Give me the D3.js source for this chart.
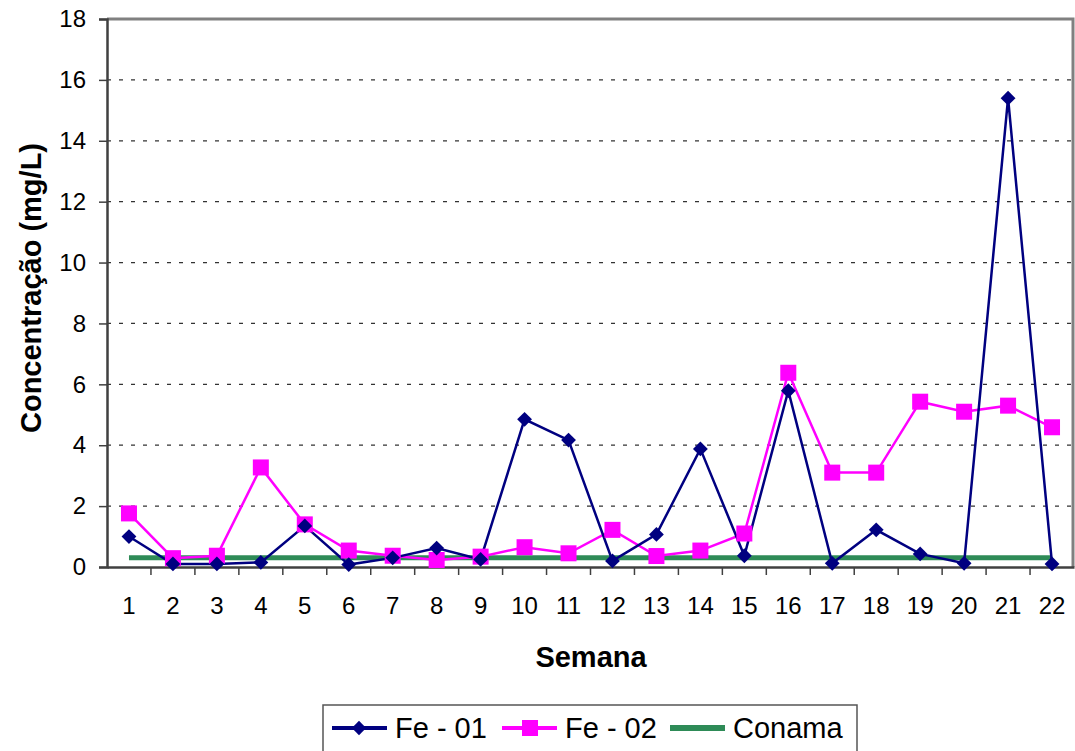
<!DOCTYPE html>
<html>
<head>
<meta charset="utf-8">
<script src="https://cdn.jsdelivr.net/npm/d3@7"></script>
<style>
  body { margin: 0; background: #fff; }
  svg text { font-family: Arial, "Liberation Sans", sans-serif; fill: #000; }
</style>
</head>
<body>
<div id="chart"></div>
<script>
const width = 1075;
const height = 751;

const semanas = ["1","2","3","4","5","6","7","8","9","10","11","12","13","14","15","16","17","18","19","20","21","22"];
const fe01 = [1.0, 0.1, 0.1, 0.15, 1.35, 0.08, 0.3, 0.62, 0.25, 4.85, 4.17, 0.2, 1.07, 3.88, 0.37, 5.79, 0.12, 1.22, 0.43, 0.12, 15.4, 0.1];
const fe02 = [1.76, 0.29, 0.37, 3.27, 1.4, 0.54, 0.37, 0.23, 0.34, 0.65, 0.45, 1.22, 0.36, 0.54, 1.1, 6.38, 3.1, 3.1, 5.43, 5.1, 5.3, 4.59];
const conama = semanas.map(() => 0.3);
const yTicks = [0, 2, 4, 6, 8, 10, 12, 14, 16, 18];

const margin = { left: 107, right: 1, top: 19, bottom: 184 };

const svg = d3.select("#chart").append("svg")
    .attr("width", width)
    .attr("height", height);

const x = d3.scaleBand()
    .domain(semanas)
    .range([margin.left, width - margin.right]);

const y = d3.scaleLinear()
    .domain([0, 18])
    .range([height - margin.bottom, margin.top]);

// grid lines
svg.append("g")
    .selectAll("line")
    .data(yTicks.filter(d => d > 0 && d < 18))
    .enter().append("line")
    .attr("x1", margin.left)
    .attr("x2", width - margin.right)
    .attr("y1", d => y(d))
    .attr("y2", d => y(d))
    .attr("stroke", "#333")
    .attr("stroke-width", 1.2)
    .attr("stroke-dasharray", "4,8");

// plot border (top / right)
svg.append("path")
    .attr("d", `M${margin.left},${y(18)}H${width - margin.right - 1}V${y(0)}`)
    .attr("fill", "none")
    .attr("stroke", "#808080")
    .attr("stroke-width", 3);

// y axis
const yAxis = svg.append("g")
    .attr("transform", `translate(${margin.left},0)`)
    .call(d3.axisLeft(y).tickValues(yTicks).tickSize(8).tickPadding(13));
yAxis.select(".domain").attr("stroke", "#404040").attr("stroke-width", 2.5);
yAxis.selectAll(".tick line").attr("stroke", "#404040").attr("stroke-width", 1.5);
yAxis.selectAll("text").style("font-size", "24px");

// x axis
const xAxis = svg.append("g")
    .attr("transform", `translate(0,${y(0)})`)
    .call(d3.axisBottom(x).tickSize(0).tickPadding(30));
xAxis.select(".domain").attr("stroke", "#404040").attr("stroke-width", 2.5);
xAxis.selectAll("text").style("font-size", "24px");
xAxis.selectAll(".bound")
    .data(semanas.slice(1))
    .enter().append("line")
    .attr("x1", d => x(d))
    .attr("x2", d => x(d))
    .attr("y1", 0)
    .attr("y2", 8)
    .attr("stroke", "#404040")
    .attr("stroke-width", 1.5);

const cx = d => x(d) + x.bandwidth() / 2;

// Conama
svg.append("path")
    .datum(conama)
    .attr("fill", "none")
    .attr("stroke", "#2E8B57")
    .attr("stroke-width", 5)
    .attr("d", d3.line().x((d, i) => cx(semanas[i])).y(d => y(d)));

// Fe - 02
svg.append("path")
    .datum(fe02)
    .attr("fill", "none")
    .attr("stroke", "#FF00FF")
    .attr("stroke-width", 2.5)
    .attr("d", d3.line().x((d, i) => cx(semanas[i])).y(d => y(d)));

// Fe - 01
svg.append("path")
    .datum(fe01)
    .attr("fill", "none")
    .attr("stroke", "#000080")
    .attr("stroke-width", 2.5)
    .attr("d", d3.line().x((d, i) => cx(semanas[i])).y(d => y(d)));

svg.append("g")
    .selectAll("rect")
    .data(fe02)
    .enter().append("rect")
    .attr("x", (d, i) => cx(semanas[i]) - 8)
    .attr("y", d => y(d) - 8)
    .attr("width", 16)
    .attr("height", 16)
    .attr("fill", "#FF00FF");

svg.append("g")
    .selectAll("path")
    .data(fe01)
    .enter().append("path")
    .attr("d", d3.symbol().type(d3.symbolDiamond2).size(140))
    .attr("transform", (d, i) => `translate(${cx(semanas[i])},${y(d)})`)
    .attr("fill", "#000080");

// axis titles
svg.append("text")
    .attr("x", 591)
    .attr("y", 667)
    .attr("text-anchor", "middle")
    .style("font-size", "29px")
    .style("font-weight", "bold")
    .text("Semana");

svg.append("text")
    .attr("transform", "translate(41,288) rotate(-90)")
    .attr("text-anchor", "middle")
    .style("font-size", "29px")
    .style("font-weight", "bold")
    .text("Concentração (mg/L)");

// legend
const legend = svg.append("g");
legend.append("rect")
    .attr("x", 323)
    .attr("y", 705)
    .attr("width", 534)
    .attr("height", 60)
    .attr("fill", "#fff")
    .attr("stroke", "#555")
    .attr("stroke-width", 1.5);

const items = [
    { name: "Fe - 01", color: "#000080", mark: "diamond", x: 332, w: 4 },
    { name: "Fe - 02", color: "#FF00FF", mark: "square", x: 502, w: 4 },
    { name: "Conama", color: "#2E8B57", mark: null, x: 670, w: 6 }
];
items.forEach(it => {
    const g = legend.append("g").attr("transform", `translate(${it.x},728)`);
    g.append("line").attr("x1", 0).attr("x2", 55).attr("stroke", it.color).attr("stroke-width", it.w);
    if (it.mark === "diamond") {
        g.append("path").attr("d", d3.symbol().type(d3.symbolDiamond2).size(130))
            .attr("transform", "translate(27,0)").attr("fill", it.color);
    } else if (it.mark === "square") {
        g.append("rect").attr("x", 20).attr("y", -8).attr("width", 16).attr("height", 16).attr("fill", it.color);
    }
    g.append("text").attr("x", 63).attr("y", 10).style("font-size", "29px").text(it.name);
});
</script>
</body>
</html>
